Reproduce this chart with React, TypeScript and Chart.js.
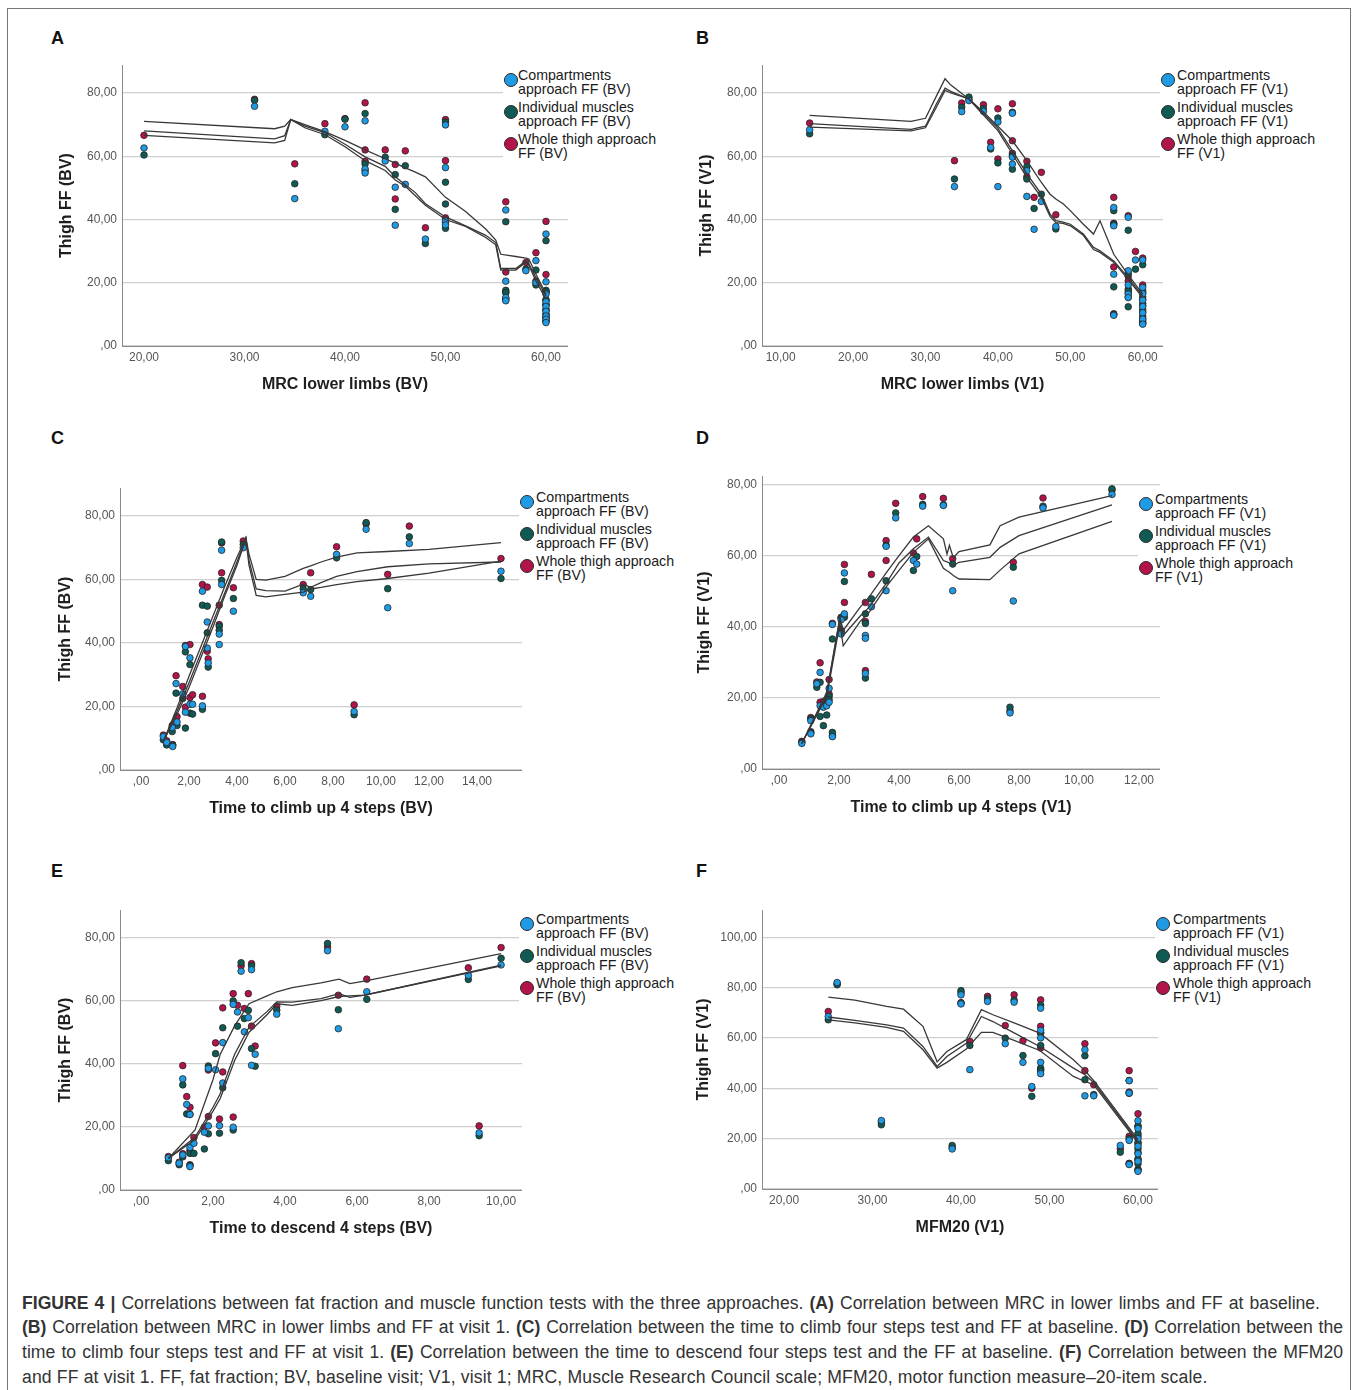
import React, { useEffect, useRef } from 'react';
import { Chart, registerables } from 'chart.js';

Chart.register(...registerables);

const FONT = '"Liberation Sans", Arial, Helvetica, sans-serif';
const SERIES_COLORS = ['#1f9be6', '#0f5b53', '#b3134b'];

// ---------- tick values ----------
const TICKS_FF = [0, 20, 40, 60, 80];
const TICKS_FF_F = [0, 20, 40, 60, 80, 100];
const TICKS_MRC_A = [20, 30, 40, 50, 60];
const TICKS_MRC_B = [10, 20, 30, 40, 50, 60];
const TICKS_CLIMB_C = [0, 2, 4, 6, 8, 10, 12, 14];
const TICKS_CLIMB_D = [0, 2, 4, 6, 8, 10, 12];
const TICKS_DESC_E = [0, 2, 4, 6, 8, 10];
const TICKS_MFM_F = [20, 30, 40, 50, 60];

// ---------- legend labels ----------
const LEGEND_BV = [
  ['Compartments', 'approach FF (BV)'],
  ['Individual muscles', 'approach FF (BV)'],
  ['Whole thigh approach', 'FF (BV)'],
];
const LEGEND_V1 = [
  ['Compartments', 'approach FF (V1)'],
  ['Individual muscles', 'approach FF (V1)'],
  ['Whole thigh approach', 'FF (V1)'],
];

// ---------- Panel A: MRC lower limbs (BV) ----------
const A_x = [20, 31, 35, 38, 40, 42, 42, 42, 44, 45, 45, 46, 48, 50, 50, 50, 50, 56, 56, 56, 56, 58, 59, 59, 60, 60, 60, 60, 60, 60, 60, 60, 60];
const A_comp = [62.6, 75.8, 46.6, 67.9, 69.3, 71.2, 56.0, 54.7, 58.5, 50.2, 38.2, 51.1, 33.8, 69.9, 56.4, 39.6, 38.3, 43.0, 20.5, 15.3, 14.3, 23.8, 27.0, 20.1, 35.4, 20.3, 16.4, 14.0, 12.5, 11.0, 9.5, 8.5, 7.4];
const A_indiv = [60.4, 77.7, 51.3, 66.8, 71.7, 73.5, 57.6, 55.5, 59.7, 54.2, 43.2, 57.0, 32.4, 70.8, 51.8, 44.9, 37.2, 39.3, 17.6, 16.9, 14.6, 24.3, 24.0, 19.3, 33.3, 17.6, 17.2, 14.6, 13.1, 11.4, 10.0, 8.9, 7.8];
const A_whole = [66.6, 78.0, 57.6, 70.3, 71.9, 76.9, 62.0, 58.4, 62.0, 57.4, 46.5, 61.7, 37.4, 71.6, 58.6, 40.5, 39.0, 45.6, 23.4, 17.0, 15.0, 26.4, 29.5, 20.5, 39.4, 22.6, 17.0, 14.5, 13.0, 11.5, 10.0, 9.0, 7.9];
const A_fitX = [20, 33, 34, 34.6, 36, 38, 40, 42, 44, 45, 46, 47, 48, 50, 52, 54, 55, 55.5, 57, 58, 58.3, 59, 60];
const A_fit1 = [71.0, 68.7, 69.5, 71.6, 70.0, 67.8, 65.0, 62.0, 59.2, 57.8, 56.3, 55.0, 53.5, 47.0, 42.5, 37.0, 33.5, 29.0, 28.3, 27.8, 27.5, 22.7, 16.4];
const A_fit2 = [68.0, 65.5, 66.5, 71.6, 69.5, 67.5, 63.8, 59.8, 56.8, 53.5, 51.0, 48.5, 45.0, 40.8, 38.0, 35.0, 32.7, 24.5, 24.5, 26.9, 26.0, 21.6, 15.8];
const A_fit3 = [66.6, 64.2, 65.0, 71.6, 69.0, 66.8, 63.0, 58.6, 55.5, 52.5, 50.5, 47.5, 44.5, 40.0, 37.8, 34.3, 32.0, 24.0, 24.0, 26.5, 25.5, 20.5, 14.8];

// ---------- Panel B: MRC lower limbs (V1) ----------
const B_x = [14, 34, 35, 36, 38, 39, 40, 40, 42, 42, 42, 44, 44, 45, 46, 48, 56, 56, 56, 56, 58, 58, 58, 58, 58, 59, 60, 60, 60, 60, 60, 60, 60, 60];
const B_comp = [68.4, 50.4, 74.1, 77.6, 74.2, 62.8, 70.8, 50.4, 73.6, 59.7, 57.5, 55.4, 47.3, 36.9, 45.7, 37.8, 43.8, 38.0, 22.7, 9.7, 40.7, 23.8, 19.3, 16.4, 15.3, 27.2, 27.2, 18.5, 16.5, 14.5, 12.5, 10.5, 8.5, 6.9];
const B_indiv = [67.1, 52.8, 75.5, 78.7, 75.0, 62.3, 72.1, 57.9, 73.9, 60.2, 55.9, 56.7, 52.8, 43.5, 48.0, 37.0, 42.8, 38.5, 18.7, 10.0, 36.6, 23.0, 18.0, 17.4, 12.4, 24.3, 25.7, 17.5, 15.5, 13.5, 11.5, 9.5, 8.0, 7.2];
const B_whole = [70.5, 58.6, 76.8, 78.0, 76.3, 64.4, 75.0, 59.1, 76.6, 64.9, 60.9, 58.4, 53.5, 47.0, 54.9, 41.5, 47.0, 38.8, 25.0, 10.2, 41.2, 22.0, 20.6, 16.8, 15.5, 29.9, 27.8, 19.3, 16.8, 14.8, 12.8, 10.8, 8.8, 7.4];
const B_fitX = [14, 28, 30, 31.5, 32.7, 33.5, 36, 38, 40, 42, 44, 46, 47.2, 48, 49, 50, 51.8, 53.2, 54.1, 56, 58, 60];
const B_fit1 = [72.9, 71.0, 72.0, 79.0, 84.5, 82.5, 78.1, 74.0, 69.5, 64.9, 58.6, 51.7, 48.0, 46.5, 45.0, 42.8, 38.5, 35.4, 39.6, 29.0, 22.5, 16.4];
const B_fit2 = [70.3, 68.5, 69.5, 76.5, 81.5, 80.5, 78.1, 73.5, 68.8, 61.8, 54.4, 48.0, 41.7, 39.6, 39.2, 38.5, 35.4, 31.2, 30.1, 26.9, 21.6, 15.8];
const B_fit3 = [69.2, 68.0, 69.0, 75.5, 80.8, 80.0, 78.1, 73.0, 68.1, 60.7, 53.3, 47.0, 41.0, 39.0, 38.8, 38.0, 35.0, 30.5, 29.6, 26.5, 21.0, 15.3];

// ---------- Panel C: Time to climb up 4 steps (BV) ----------
const C_x = [0.93, 1.07, 1.32, 1.30, 1.46, 1.50, 1.74, 1.85, 1.85, 2.04, 2.04, 2.15, 2.56, 2.56, 2.76, 2.76, 2.80, 3.26, 3.26, 3.36, 3.36, 3.85, 4.26, 6.76, 7.07, 8.15, 8.88, 9.38, 10.28, 11.18, 15.0];
const C_comp = [10.5, 8.7, 7.4, 13.4, 27.2, 15.1, 24.0, 38.9, 18.2, 35.3, 20.7, 20.7, 56.3, 20.2, 46.6, 38.4, 33.7, 42.8, 39.5, 69.2, 58.4, 50.0, 70.0, 55.8, 54.7, 67.9, 18.4, 75.8, 51.1, 71.3, 62.6];
const C_indiv = [9.5, 7.9, 7.8, 12.1, 24.2, 14.0, 22.5, 37.2, 13.2, 33.2, 17.9, 17.6, 51.9, 19.1, 51.6, 43.2, 32.4, 45.3, 44.0, 71.8, 59.7, 54.0, 71.0, 57.0, 56.8, 66.8, 17.4, 77.9, 57.1, 73.4, 60.3];
const C_whole = [11.0, 9.2, 8.0, 14.0, 29.7, 16.8, 26.3, 39.2, 19.8, 39.5, 22.8, 23.7, 58.4, 23.2, 57.6, 37.4, 35.0, 51.9, 45.8, 71.5, 62.1, 57.4, 72.1, 58.4, 62.1, 70.3, 20.5, 77.5, 61.6, 76.8, 66.6];
const C_fitX = [0.93, 1.5, 2.0, 2.5, 3.0, 3.5, 4.0, 4.37, 4.5, 4.8, 5.2, 6.0, 6.76, 7.07, 7.5, 8.15, 9.0, 10.28, 12.0, 15.0];
const C_fit1 = [9.0, 19.5, 29.5, 39.0, 48.5, 58.0, 67.0, 73.2, 68.0, 60.0, 59.8, 61.0, 63.5, 64.3, 65.5, 67.0, 68.4, 68.8, 69.5, 71.6];
const C_fit2 = [9.0, 18.5, 27.5, 37.0, 46.5, 56.0, 65.5, 73.0, 66.0, 57.0, 56.5, 56.3, 58.5, 57.5, 59.0, 61.0, 62.5, 64.0, 64.9, 65.5];
const C_fit3 = [9.0, 17.5, 26.0, 35.5, 45.0, 55.0, 64.5, 72.8, 64.5, 55.0, 54.5, 55.3, 56.0, 57.0, 57.5, 58.4, 59.3, 60.3, 62.0, 65.8];

// ---------- Panel D: Time to climb up 4 steps (V1) ----------
const D_x = [0.76, 1.06, 1.06, 1.26, 1.37, 1.37, 1.48, 1.59, 1.67, 1.67, 1.78, 1.78, 2.07, 2.07, 2.18, 2.18, 2.88, 2.88, 2.88, 3.08, 3.57, 3.57, 3.89, 4.48, 4.59, 4.79, 5.48, 5.79, 7.70, 7.81, 8.80, 11.1];
const D_comp = [7.2, 9.9, 13.6, 24.0, 27.2, 17.8, 17.4, 17.8, 22.7, 18.8, 40.7, 9.1, 42.0, 38.0, 55.2, 43.7, 37.6, 36.8, 26.9, 45.7, 62.7, 50.2, 70.7, 58.7, 57.7, 74.0, 74.2, 50.2, 15.8, 47.3, 73.5, 77.3];
const D_indiv = [7.5, 10.2, 14.1, 23.0, 24.4, 14.8, 12.2, 15.2, 20.5, 19.5, 36.6, 10.3, 42.7, 38.5, 52.8, 42.7, 43.7, 41.0, 25.6, 47.9, 63.0, 53.0, 72.1, 55.9, 59.8, 74.5, 74.4, 57.7, 17.4, 56.8, 74.0, 78.9];
const D_whole = [7.8, 10.5, 14.5, 24.5, 29.9, 18.8, 19.0, 18.2, 25.2, 21.1, 41.0, 9.5, 42.5, 39.0, 57.6, 46.9, 46.9, 41.5, 27.7, 54.8, 64.3, 58.7, 74.8, 60.8, 64.8, 76.7, 76.2, 59.2, 16.4, 58.2, 76.3, 78.5];
const D_fitX = [0.76, 1.59, 2.03, 2.14, 2.7, 3.0, 3.59, 4.0, 4.48, 4.98, 5.48, 5.6, 5.68, 5.81, 6.0, 7.03, 7.37, 8.0, 11.1];
const D_fit1 = [7.2, 21.6, 42.7, 39.0, 45.5, 48.4, 55.4, 60.1, 65.3, 68.5, 64.8, 60.5, 63.0, 59.5, 61.2, 63.1, 68.5, 70.9, 77.0];
const D_fit2 = [7.2, 21.0, 42.5, 37.6, 43.0, 45.5, 52.5, 58.0, 62.0, 65.3, 58.7, 58.3, 58.0, 57.3, 58.2, 59.6, 62.4, 65.7, 74.4];
const D_fit3 = [7.2, 20.5, 41.0, 34.7, 41.5, 44.1, 51.5, 55.9, 61.0, 64.8, 56.5, 55.8, 55.4, 54.5, 53.5, 53.3, 56.0, 60.6, 69.7];

// ---------- Panel E: Time to descend 4 steps (BV) ----------
const E_x = [0.76, 1.06, 1.16, 1.16, 1.27, 1.36, 1.36, 1.36, 1.47, 1.76, 1.87, 1.87, 2.07, 2.18, 2.27, 2.27, 2.56, 2.56, 2.68, 2.78, 2.87, 2.98, 3.07, 3.07, 3.17, 3.77, 5.18, 5.48, 6.27, 9.09, 9.39, 10.0];
const E_comp = [10.2, 8.5, 35.2, 11.1, 27.1, 23.9, 13.5, 7.4, 14.8, 18.3, 38.5, 20.3, 38.1, 20.4, 46.7, 33.9, 58.8, 19.9, 56.4, 69.3, 50.1, 54.6, 69.8, 39.5, 43.0, 55.7, 75.8, 51.1, 62.8, 68.0, 18.1, 71.3];
const E_indiv = [9.3, 8.0, 33.3, 10.5, 24.1, 24.0, 11.6, 7.8, 11.6, 13.0, 39.3, 17.8, 43.2, 18.0, 51.4, 32.4, 59.9, 19.0, 51.9, 72.0, 54.3, 56.9, 71.0, 44.8, 39.2, 57.0, 78.1, 57.1, 60.4, 66.7, 17.2, 73.4];
const E_whole = [10.6, 8.8, 39.4, 11.5, 29.6, 26.2, 12.5, 8.0, 16.6, 19.9, 38.0, 23.3, 46.6, 22.5, 57.7, 37.4, 62.2, 23.1, 58.5, 71.0, 57.5, 62.2, 71.7, 51.9, 45.6, 58.2, 77.0, 61.7, 66.8, 70.4, 20.3, 76.8];
const E_fitX = [0.76, 1.5, 2.0, 2.2, 2.6, 3.0, 3.5, 3.77, 4.2, 5.0, 5.5, 5.8, 6.2, 10.0];
const E_fit1 = [10.0, 19.0, 35.0, 43.0, 52.0, 59.0, 61.5, 62.8, 64.1, 65.6, 66.8, 65.4, 66.2, 74.9];
const E_fit2 = [10.0, 16.7, 26.2, 30.5, 43.0, 51.6, 56.5, 59.6, 59.5, 60.6, 62.2, 61.0, 61.7, 71.2];
const E_fit3 = [10.0, 16.0, 25.0, 29.0, 41.0, 50.0, 55.5, 59.0, 58.5, 60.0, 61.3, 61.5, 61.7, 71.0];

// ---------- Panel F: MFM20 (V1) ----------
const F_x = [25, 26, 31, 39, 40, 40, 41, 43, 45, 46, 47, 48, 49, 49, 49, 49, 49, 54, 54, 55, 58, 59, 59, 59, 59, 60, 60, 60, 60, 60, 60, 60];
const F_comp = [68.5, 82.0, 27.2, 15.9, 77.1, 73.5, 47.4, 74.5, 57.7, 74.2, 50.3, 40.7, 71.8, 63.0, 60.0, 50.3, 45.8, 55.3, 37.0, 37.0, 17.3, 43.0, 38.1, 19.3, 9.7, 27.1, 24.0, 20.0, 17.0, 14.0, 11.0, 7.0];
const F_indiv = [67.2, 81.1, 25.5, 17.3, 78.8, 73.8, 57.0, 75.5, 59.9, 75.0, 53.0, 36.8, 73.0, 62.0, 57.0, 48.0, 47.0, 52.9, 43.4, 37.5, 14.6, 43.1, 38.0, 20.0, 10.0, 24.9, 22.0, 18.5, 16.0, 12.0, 10.0, 7.5];
const F_whole = [70.5, 81.5, 26.5, 16.5, 78.0, 74.0, 58.6, 76.5, 64.9, 77.1, 58.9, 40.0, 75.1, 64.6, 62.0, 56.0, 47.5, 57.7, 47.0, 41.4, 16.0, 47.0, 38.5, 20.9, 10.2, 29.9, 25.0, 21.0, 18.0, 14.5, 11.5, 7.8];
const F_fitX = [25, 28, 31.6, 33.5, 35.7, 37.3, 38.4, 40.6, 42.3, 43.6, 46, 48.9, 52.7, 54, 55, 60];
const F_fit1 = [76.2, 75.0, 72.5, 71.4, 64.6, 50.5, 54.6, 59.3, 71.2, 69.2, 66.0, 61.9, 51.3, 47.0, 43.0, 19.6];
const F_fit2 = [68.3, 67.0, 65.2, 63.9, 56.6, 48.7, 52.6, 57.9, 68.5, 66.5, 62.0, 56.6, 48.0, 45.4, 42.3, 18.9];
const F_fit3 = [67.2, 66.0, 64.2, 62.6, 55.3, 48.0, 50.3, 55.6, 62.2, 62.2, 59.0, 55.0, 44.7, 42.7, 41.4, 18.3];

// ---------- layout ----------
const Y_AXIS_W = 80;
const X_AXIS_H = 54;

type Panel = {
  letter: string;
  letterPos: [number, number];
  plot: [number, number, number, number];
  xRange: [number, number];
  yMax: number;
  xTicks: number[];
  yTicks: number[];
  xTitle: string;
  yTitle: string;
  yTitleX: number;
  x: number[];
  series: number[][];
  fitX: number[];
  fits: number[][];
  legend: string[][];
  legendPos: { mx: number; tx: number; y: number };
};

const PANELS: Panel[] = [
  {
    letter: 'A', letterPos: [58, 38], plot: [122, 65, 568, 346], xRange: [17.81, 62.19], yMax: 88.85,
    xTicks: TICKS_MRC_A, yTicks: TICKS_FF, xTitle: 'MRC lower limbs (BV)', yTitle: 'Thigh FF (BV)', yTitleX: 67,
    x: A_x, series: [A_comp, A_indiv, A_whole], fitX: A_fitX, fits: [A_fit1, A_fit2, A_fit3],
    legend: LEGEND_BV, legendPos: { mx: 511, tx: 518, y: 76 },
  },
  {
    letter: 'B', letterPos: [703, 38], plot: [762, 65, 1163, 346], xRange: [7.42, 62.8], yMax: 88.85,
    xTicks: TICKS_MRC_B, yTicks: TICKS_FF, xTitle: 'MRC lower limbs (V1)', yTitle: 'Thigh FF (V1)', yTitleX: 707,
    x: B_x, series: [B_comp, B_indiv, B_whole], fitX: B_fitX, fits: [B_fit1, B_fit2, B_fit3],
    legend: LEGEND_V1, legendPos: { mx: 1168, tx: 1177, y: 76 },
  },
  {
    letter: 'C', letterPos: [58, 438], plot: [120, 488, 522, 770], xRange: [-0.875, 15.875], yMax: 88.8,
    xTicks: TICKS_CLIMB_C, yTicks: TICKS_FF, xTitle: 'Time to climb up 4 steps (BV)', yTitle: 'Thigh FF (BV)', yTitleX: 66,
    x: C_x, series: [C_comp, C_indiv, C_whole], fitX: C_fitX, fits: [C_fit1, C_fit2, C_fit3],
    legend: LEGEND_BV, legendPos: { mx: 527, tx: 536, y: 498 },
  },
  {
    letter: 'D', letterPos: [703, 438], plot: [762, 476, 1160, 769], xRange: [-0.567, 12.7], yMax: 82.5,
    xTicks: TICKS_CLIMB_D, yTicks: TICKS_FF, xTitle: 'Time to climb up 4 steps (V1)', yTitle: 'Thigh FF (V1)', yTitleX: 705,
    x: D_x, series: [D_comp, D_indiv, D_whole], fitX: D_fitX, fits: [D_fit1, D_fit2, D_fit3],
    legend: LEGEND_V1, legendPos: { mx: 1146, tx: 1155, y: 500 },
  },
  {
    letter: 'E', letterPos: [58, 871], plot: [120, 910, 522, 1190], xRange: [-0.583, 10.58], yMax: 88.7,
    xTicks: TICKS_DESC_E, yTicks: TICKS_FF, xTitle: 'Time to descend 4 steps (BV)', yTitle: 'Thigh FF (BV)', yTitleX: 66,
    x: E_x, series: [E_comp, E_indiv, E_whole], fitX: E_fitX, fits: [E_fit1, E_fit2, E_fit3],
    legend: LEGEND_BV, legendPos: { mx: 527, tx: 536, y: 920 },
  },
  {
    letter: 'F', letterPos: [703, 871], plot: [762, 910, 1158, 1189], xRange: [17.51, 62.26], yMax: 110.8,
    xTicks: TICKS_MFM_F, yTicks: TICKS_FF_F, xTitle: 'MFM20 (V1)', yTitle: 'Thigh FF (V1)', yTitleX: 704,
    x: F_x, series: [F_comp, F_indiv, F_whole], fitX: F_fitX, fits: [F_fit1, F_fit2, F_fit3],
    legend: LEGEND_V1, legendPos: { mx: 1163, tx: 1173, y: 920 },
  },
];

function fmt(v: number): string {
  if (v === 0) return ',00';
  return v.toFixed(2).replace('.', ',');
}

function ChartPanel({ p }: { p: Panel }) {
  const ref = useRef<HTMLCanvasElement | null>(null);
  const [l, t, r, b] = p.plot;
  const W = r - l + Y_AXIS_W;
  const H = b - t + X_AXIS_H;
  const cl = l - Y_AXIS_W;

  useEffect(() => {
    const canvas = ref.current;
    if (!canvas) return;
    const datasets: any[] = [];
    p.fits.forEach((f) => {
      datasets.push({
        data: p.fitX.map((x, i) => ({ x, y: f[i] })),
        showLine: true,
        borderColor: '#383838',
        borderWidth: 1.3,
        pointRadius: 0,
        pointHoverRadius: 0,
        fill: false,
        tension: 0,
      });
    });
    SERIES_COLORS.forEach((c, k) => {
      datasets.push({
        data: p.x.map((x, i) => ({ x, y: p.series[k][i] })),
        backgroundColor: c,
        borderColor: '#242424',
        borderWidth: 0.8,
        pointRadius: 3.3,
      });
    });

    const chart = new Chart(canvas, {
      type: 'scatter',
      data: { datasets },
      options: {
        animation: false,
        responsive: false,
        maintainAspectRatio: false,
        events: [],
        layout: { padding: 0, autoPadding: false },
        plugins: { legend: { display: false }, tooltip: { enabled: false } },
        scales: {
          x: {
            type: 'linear',
            position: 'bottom',
            bounds: 'data',
            min: p.xRange[0],
            max: p.xRange[1],
            afterBuildTicks: (ax: any) => {
              ax.ticks = p.xTicks.map((v) => ({ value: v }));
            },
            afterFit: (s: any) => {
              s.height = X_AXIS_H;
              s.paddingLeft = 0;
              s.paddingRight = 0;
            },
            grid: { display: false, drawTicks: false },
            border: { display: true, color: '#8a8a8a', width: 1 },
            ticks: {
              padding: 4,
              color: '#555555',
              font: { family: FONT, size: 12 },
              maxRotation: 0,
              autoSkip: false,
              callback: (v: any) => fmt(Number(v)),
            },
            title: {
              display: true,
              text: p.xTitle,
              color: '#1e1e1e',
              font: { family: FONT, size: 16, weight: 'bold' },
              padding: { top: 0, bottom: 5.4 },
            },
          },
          y: {
            type: 'linear',
            position: 'left',
            bounds: 'data',
            min: 0,
            max: p.yMax,
            afterBuildTicks: (ax: any) => {
              ax.ticks = p.yTicks.map((v) => ({ value: v }));
            },
            afterFit: (s: any) => {
              s.width = Y_AXIS_W;
              s.paddingTop = 0;
              s.paddingBottom = 0;
            },
            grid: { display: true, drawTicks: false, color: '#cfcfcf', lineWidth: 1.2 },
            border: { display: true, color: '#8a8a8a', width: 1 },
            ticks: {
              padding: 5,
              color: '#555555',
              font: { family: FONT, size: 12 },
              autoSkip: false,
              callback: (v: any) => fmt(Number(v)),
            },
            title: {
              display: true,
              text: p.yTitle,
              color: '#1e1e1e',
              font: { family: FONT, size: 16, weight: 'bold' },
              padding: { top: p.yTitleX - cl - 9.6, bottom: 0 },
            },
          },
        },
      } as any,
    });
    return () => chart.destroy();
  }, [p]);

  return (
    <canvas
      ref={ref}
      width={W}
      height={H}
      style={{ position: 'absolute', left: cl, top: t, width: W, height: H }}
    />
  );
}

function Legend({ p }: { p: Panel }) {
  const { mx, tx, y } = p.legendPos;
  return (
    <>
      <div style={{ position: 'absolute', left: mx - 8, top: y - 11, width: 172, height: 100, background: '#ffffff' }} />
      {p.legend.map((lines, i) => (
        <React.Fragment key={i}>
          <div
            style={{
              position: 'absolute',
              left: mx - 7,
              top: y + 32 * i + 4 - 7,
              width: 14,
              height: 14,
              borderRadius: '50%',
              background: SERIES_COLORS[i],
              border: '1px solid #2a2a2a',
              boxSizing: 'border-box',
            }}
          />
          <div
            style={{
              position: 'absolute',
              left: tx,
              top: y + 32 * i - 7,
              fontFamily: FONT,
              fontSize: 14.2,
              lineHeight: '13.8px',
              color: '#1a1a1a',
              whiteSpace: 'nowrap',
            }}
          >
            {lines[0]}
            <br />
            {lines[1]}
          </div>
        </React.Fragment>
      ))}
    </>
  );
}

const CAPTION_STYLE: React.CSSProperties = {
  position: 'absolute',
  left: 22,
  fontFamily: FONT,
  fontSize: 17.6,
  lineHeight: '24.7px',
  height: 24.7,
  color: '#333333',
  whiteSpace: 'nowrap',
};

function Caption() {
  const just: React.CSSProperties = { textAlign: 'justify', textAlignLast: 'justify' as any };
  const top0 = 1290.6;
  return (
    <>
      <div style={{ ...CAPTION_STYLE, ...just, top: top0, width: 1298 }}>
        <b>FIGURE 4 |</b> Correlations between fat fraction and muscle function tests with the three approaches. <b>(A)</b> Correlation between MRC in lower limbs and FF at baseline.
      </div>
      <div style={{ ...CAPTION_STYLE, ...just, top: top0 + 24.7, width: 1321 }}>
        <b>(B)</b> Correlation between MRC in lower limbs and FF at visit 1. <b>(C)</b> Correlation between the time to climb four steps test and FF at baseline. <b>(D)</b> Correlation between the
      </div>
      <div style={{ ...CAPTION_STYLE, ...just, top: top0 + 49.4, width: 1321 }}>
        time to climb four steps test and FF at visit 1. <b>(E)</b> Correlation between the time to descend four steps test and the FF at baseline. <b>(F)</b> Correlation between the MFM20
      </div>
      <div style={{ ...CAPTION_STYLE, top: top0 + 74.1, letterSpacing: '0.15px' }}>
        and FF at visit 1. FF, fat fraction; BV, baseline visit; V1, visit 1; MRC, Muscle Research Council scale; MFM20, motor function measure–20-item scale.
      </div>
    </>
  );
}

export default function App() {
  return (
    <div
      style={{
        position: 'absolute',
        left: 0,
        top: 0,
        width: 1357,
        height: 1390,
        overflow: 'hidden',
        background: '#ffffff',
      }}
    >
      <div
        style={{
          position: 'absolute',
          left: 7,
          top: 8,
          width: 1344,
          height: 1400,
          border: '1px solid #777777',
          boxSizing: 'border-box',
        }}
      />
      {PANELS.map((p) => (
        <React.Fragment key={p.letter}>
          <ChartPanel p={p} />
          <Legend p={p} />
          <div
            style={{
              position: 'absolute',
              left: p.letterPos[0] - 7,
              top: p.letterPos[1] - 11,
              fontFamily: FONT,
              fontWeight: 'bold',
              fontSize: 18,
              lineHeight: '22px',
              color: '#111111',
            }}
          >
            {p.letter}
          </div>
        </React.Fragment>
      ))}
      <Caption />
    </div>
  );
}
